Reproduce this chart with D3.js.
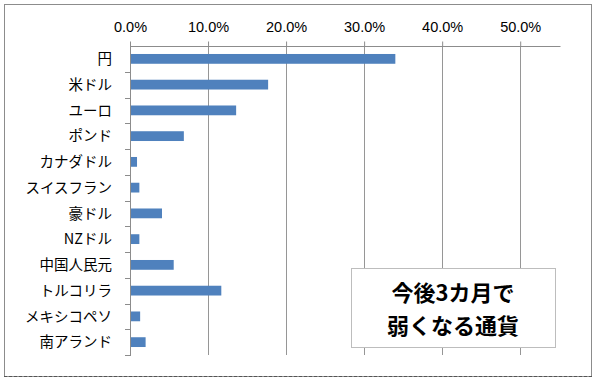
<!DOCTYPE html>
<html>
<head>
<meta charset="utf-8">
<script src="https://cdn.jsdelivr.net/npm/d3@7"></script>
<style>
  body { margin: 0; background: #fff; }
  svg { display: block; }
</style>
</head>
<body>
<div id="chart"></div>
<script>
const currencies = ["円", "米ドル", "ユーロ", "ポンド", "カナダドル", "スイスフラン", "豪ドル", "NZドル", "中国人民元", "トルコリラ", "メキシコペソ", "南アランド"];
const shares = [34.0, 17.7, 13.6, 6.9, 0.9, 1.2, 4.1, 1.2, 5.6, 11.7, 1.3, 2.0];
const xTicks = [0, 10, 20, 30, 40, 50];
const titleLines = ["今後3カ月で", "弱くなる通貨"];

const W = 595, H = 378;
const plot = {left: 130, top: 46, right: 560, bottom: 355};

const svg = d3.select("#chart").append("svg")
  .attr("width", W).attr("height", H);

// outer frame
svg.append("rect").attr("x", 4.5).attr("y", 4.5).attr("width", 587).attr("height", 372)
  .attr("fill", "#fff").attr("stroke", "#8c8c8c").attr("stroke-width", 1);
svg.append("line").attr("x1", 4).attr("x2", 592).attr("y1", 376.5).attr("y2", 376.5)
  .attr("stroke", "#555").attr("stroke-dasharray", "3,2");

const x = d3.scaleLinear().domain([0, 55.1]).range([plot.left, plot.right]);
const y = d3.scaleBand().domain(currencies).range([plot.top, plot.bottom]).paddingInner(0.62).paddingOuter(0.31);
const yEdges = d3.scaleLinear().domain([0, currencies.length]).range([plot.top, plot.bottom]);

// gridlines
svg.append("g").selectAll("line")
  .data(xTicks.slice(1))
  .join("line")
  .attr("x1", d => Math.round(x(d)) + 0.5).attr("x2", d => Math.round(x(d)) + 0.5)
  .attr("y1", plot.top).attr("y2", plot.bottom)
  .attr("stroke", "#969696");

// top axis
const xAxis = svg.append("g")
  .attr("transform", `translate(0.5,${plot.top + 0.5})`)
  .call(d3.axisTop(x).tickValues(xTicks).tickFormat(d => d.toFixed(1) + "%").tickSize(5).tickSizeOuter(0).offset(0));
xAxis.select(".domain").attr("stroke", "#8c8c8c");
xAxis.selectAll(".tick line").attr("stroke", "#8c8c8c");
xAxis.selectAll(".tick text")
  .attr("y", -15)
  .attr("fill", "#000")
  .style("font-family", "'Liberation Sans', 'DejaVu Sans', sans-serif")
  .style("font-size", "14.5px");

// left axis: line + ticks at category boundaries
const yAxis = svg.append("g");
yAxis.append("line")
  .attr("x1", plot.left + 0.5).attr("x2", plot.left + 0.5)
  .attr("y1", plot.top).attr("y2", plot.bottom + 1)
  .attr("stroke", "#8c8c8c");
yAxis.selectAll("line.tk")
  .data(d3.range(1, currencies.length + 1))
  .join("line").attr("class", "tk")
  .attr("x1", plot.left - 5).attr("x2", plot.left)
  .attr("y1", d => Math.round(yEdges(d)) + 0.5).attr("y2", d => Math.round(yEdges(d)) + 0.5)
  .attr("stroke", "#8c8c8c");
yAxis.selectAll("text")
  .data(currencies)
  .join("text")
  .attr("x", 112)
  .attr("y", d => y(d) + y.bandwidth() / 2)
  .attr("dy", "0.36em")
  .attr("text-anchor", "end")
  .style("font-family", "'Noto Sans CJK JP', sans-serif")
  .style("font-size", "14.5px")
  .attr("fill", "#000")
  .text(d => d);

// bars
svg.append("g").selectAll("rect")
  .data(currencies)
  .join("rect")
  .attr("x", x(0) + 1)
  .attr("y", d => y(d))
  .attr("width", (d, i) => x(shares[i]) - x(0) - 1)
  .attr("height", y.bandwidth())
  .attr("fill", "#4f81bd");

// title box
const box = svg.append("g");
box.append("rect").attr("x", 351.5).attr("y", 268.5).attr("width", 204).attr("height", 79)
  .attr("fill", "#fff").attr("stroke", "#bdbdbd");
box.selectAll("text")
  .data(titleLines)
  .join("text")
  .attr("x", 453)
  .attr("y", (d, i) => 301 + i * 33)
  .attr("text-anchor", "middle")
  .style("font-family", "'Noto Sans CJK JP', sans-serif")
  .style("font-size", "22px")
  .style("font-weight", "bold")
  .attr("fill", "#000")
  .text(d => d);
</script>
</body>
</html>
